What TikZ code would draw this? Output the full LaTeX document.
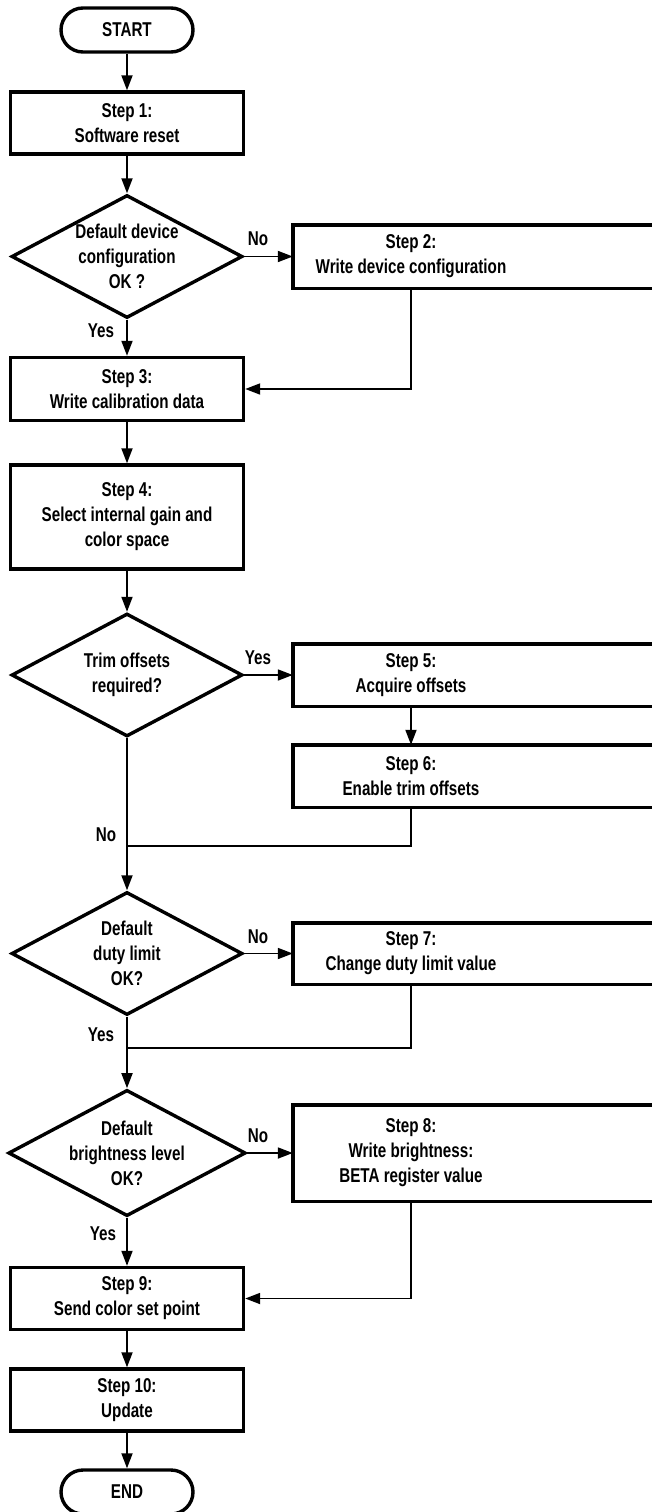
\documentclass[tikz,border=0pt]{standalone}
\usepackage{fontspec}
\setmainfont{Liberation Sans}[FakeStretch=0.76]
\usetikzlibrary{shapes.geometric,arrows.meta}
\tikzset{
  frame/.style={line width=3.4pt},
  term/.style={frame,draw,rounded corners=22pt,minimum width=132pt,minimum height=44pt,inner sep=0pt},
  stepbox/.style={frame,draw,minimum width=233pt,minimum height=62pt,inner sep=0pt,align=center},
  sidebox/.style={minimum width=236pt,minimum height=62pt,inner sep=0pt,align=center},
  decide/.style={frame,draw,diamond,aspect=1.88,minimum width=231pt,minimum height=123pt,inner sep=0pt,align=center},
  flow/.style={line width=1.8pt,-{Triangle[length=15pt,width=11pt]}},
  merge/.style={line width=1.8pt},
  answer/.style={inner sep=0pt}
}
\begin{document}
\begin{tikzpicture}[x=1pt,y=-1pt,font=\fontsize{20}{25}\selectfont\bfseries]
      \useasboundingbox (0,0) rectangle (652,1512);
      \draw
        (127,30) node[term] (start){START}
        (127,123) node[stepbox] (s1){Step 1:\\Software reset}
        (127,256.5) node[decide] (d1){Default device\\configuration\\OK ?}
        (411,256.5) node[sidebox,minimum height=63pt] (s2){Step 2:\\Write device configuration}
        (127,389) node[stepbox,minimum height=63pt] (s3){Step 3:\\Write calibration data}
        (127,517) node[stepbox,minimum height=104pt] (s4){Step 4:\\Select internal gain and\\color space}
        (127,675) node[decide] (d2){Trim offsets\\required?}
        (411,675) node[sidebox] (s5){Step 5:\\Acquire offsets}
        (411,776) node[sidebox] (s6){Step 6:\\Enable trim offsets}
        (127,953.5) node[decide] (d3){Default\\duty limit\\OK?}
        (411,953.5) node[sidebox,minimum height=61pt] (s7){Step 7:\\Change duty limit value}
        (127,1153) node[decide] (d4){Default\\brightness level\\OK?}
        (411,1153) node[sidebox,minimum height=96pt] (s8){Step 8:\\Write brightness:\\BETA register value}
        (127,1298.5) node[stepbox] (s9){Step 9:\\Send color set point}
        (127,1400) node[stepbox] (s10){Step 10:\\Update}
        (127,1492) node[term] (end){END};
      % side boxes run off the right edge
      \foreach \n in {s2,s5,s6,s7,s8}
        \draw[frame] (\n.north west) rectangle ([xshift=150pt]\n.south east);
      \coordinate (j1) at (127,846);
      \coordinate (j2) at (127,1048);
      \begin{scope}[flow]
        \draw (start) to (s1);
        \draw (s1) to (d1);
        \draw (d1) to (s2);
        \draw (d1) to (s3);
        \draw (s2.south) |- (s3.east);
        \draw (s3) to (s4);
        \draw (s4) to (d2);
        \draw (d2) to (s5);
        \draw (s5) to (s6);
        \draw (d2) to (d3);
        \draw (d3) to (s7);
        \draw (d3) to (d4);
        \draw (d4) to (s8);
        \draw (d4) to (s9);
        \draw (s8.south) |- (s9.east);
        \draw (s9) to (s10);
        \draw (s10) to (end);
      \end{scope}
      \begin{scope}[merge]
        \draw (s6.south) |- (j1);
        \draw (s7.south) |- (j2);
      \end{scope}
      \node[answer] (no1) at (258,239) {No};
      \node[answer] (yes1) at (101,331) {Yes};
      \node[answer] (yes2) at (258,658) {Yes};
      \node[answer] (no2) at (106,835) {No};
      \node[answer] (no3) at (258,937) {No};
      \node[answer] (yes3) at (101,1035) {Yes};
      \node[answer] (no4) at (258,1136) {No};
      \node[answer] (yes4) at (103,1234) {Yes};
    \end{tikzpicture}
\end{document}
